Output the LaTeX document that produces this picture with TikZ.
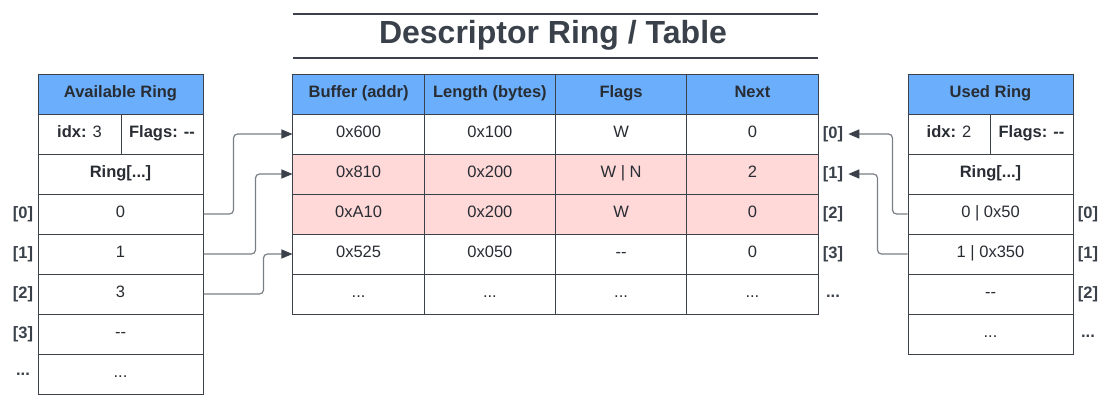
\documentclass[tikz,border=0pt]{standalone}
\usepackage{fontspec}
\setmainfont{Liberation Sans}
\usetikzlibrary{arrows.meta}
\definecolor{lineC}{HTML}{3A414A}
\definecolor{txtC}{HTML}{282C33}
\definecolor{headC}{HTML}{6AAEFC}
\definecolor{pinkC}{HTML}{FFD8D8}
\definecolor{arrC}{HTML}{7A7F86}
\newcommand{\dd}{-{}-}
\tikzset{
  cell/.style={draw=lineC, line width=1pt, minimum height=40pt, inner sep=0pt, text=txtC, text height=12pt, text depth=6pt, font=\fontsize{16.5}{19}\selectfont},
  hd/.style={cell, fill=headC, font=\fontsize{16.5}{19}\selectfont\bfseries},
  pk/.style={cell, fill=pinkC},
  lab/.style={inner sep=0pt, text=lineC, font=\fontsize{16.5}{19}\selectfont\bfseries},
  arr/.style={draw=arrC, line width=1.2pt, rounded corners=4pt, -{Triangle[length=11pt,width=9pt,color=lineC]}},
}
\begin{document}
\begin{tikzpicture}[x=1pt,y=-1pt]
\useasboundingbox (0,0) rectangle (1109,408);
% ---------- title ----------
\node[text=lineC, font=\fontsize{32}{38}\selectfont\bfseries] (title) at (553,35) {Descriptor Ring / Table};
\draw[lineC, line width=2pt] (293,14) -- (818,14);
\draw[lineC, line width=2pt] (293,58) -- (818,58);
% ---------- available ring ----------
\node[hd, minimum width=165pt] (ah) at (120.5,94) {Available Ring};
\node[cell, minimum width=83pt] (aidx) at (79.5,134) {\textbf{idx:} 3};
\node[cell, minimum width=82pt] (aflg) at (162,134) {\textbf{Flags: \dd}};
\node[cell, minimum width=165pt, font=\fontsize{16.5}{19}\selectfont\bfseries] (aring) at (120.5,174) {Ring[...]};
\node[cell, minimum width=165pt] (a0) at (120.5,214) {0};
\node[cell, minimum width=165pt] (a1) at (120.5,254) {1};
\node[cell, minimum width=165pt] (a2) at (120.5,294) {3};
\node[cell, minimum width=165pt] (a3) at (120.5,334) {\dd};
\node[cell, minimum width=165pt] (a4) at (120.5,374) {...};
\node[lab] (la0) at (23,214) {[0]};
\node[lab] (la1) at (23,254) {[1]};
\node[lab] (la2) at (23,294) {[2]};
\node[lab] (la3) at (23,334) {[3]};
\node[lab] (la4) at (23,374) {...};
% ---------- descriptor table ----------
\node[hd, minimum width=131.25pt] (dh0) at (358.6,94) {Buffer (addr)};
\node[hd, minimum width=131.25pt] (dh1) at (489.9,94) {Length (bytes)};
\node[hd, minimum width=131.25pt] (dh2) at (621.1,94) {Flags};
\node[hd, minimum width=131.25pt] (dh3) at (752.4,94) {Next};
\node[cell, minimum width=131.25pt] (d00) at (358.6,134) {0x600};
\node[cell, minimum width=131.25pt] (d01) at (489.9,134) {0x100};
\node[cell, minimum width=131.25pt] (d02) at (621.1,134) {W};
\node[cell, minimum width=131.25pt] (d03) at (752.4,134) {0};
\node[pk, minimum width=131.25pt] (d10) at (358.6,174) {0x810};
\node[pk, minimum width=131.25pt] (d11) at (489.9,174) {0x200};
\node[pk, minimum width=131.25pt] (d12) at (621.1,174) {W | N};
\node[pk, minimum width=131.25pt] (d13) at (752.4,174) {2};
\node[pk, minimum width=131.25pt] (d20) at (358.6,214) {0xA10};
\node[pk, minimum width=131.25pt] (d21) at (489.9,214) {0x200};
\node[pk, minimum width=131.25pt] (d22) at (621.1,214) {W};
\node[pk, minimum width=131.25pt] (d23) at (752.4,214) {0};
\node[cell, minimum width=131.25pt] (d30) at (358.6,254) {0x525};
\node[cell, minimum width=131.25pt] (d31) at (489.9,254) {0x050};
\node[cell, minimum width=131.25pt] (d32) at (621.1,254) {\dd};
\node[cell, minimum width=131.25pt] (d33) at (752.4,254) {0};
\node[cell, minimum width=131.25pt] (d40) at (358.6,294) {...};
\node[cell, minimum width=131.25pt] (d41) at (489.9,294) {...};
\node[cell, minimum width=131.25pt] (d42) at (621.1,294) {...};
\node[cell, minimum width=131.25pt] (d43) at (752.4,294) {...};
\node[lab] (ld0) at (833,134) {[0]};
\node[lab] (ld1) at (833,174) {[1]};
\node[lab] (ld2) at (833,214) {[2]};
\node[lab] (ld3) at (833,254) {[3]};
\node[lab] (ld4) at (833,296) {...};
% ---------- used ring ----------
\node[hd, minimum width=165pt] (uh) at (990.5,94) {Used Ring};
\node[cell, minimum width=82pt] (uidx) at (949,134) {\textbf{idx:} 2};
\node[cell, minimum width=83pt] (uflg) at (1031.5,134) {\textbf{Flags: \dd}};
\node[cell, minimum width=165pt, font=\fontsize{16.5}{19}\selectfont\bfseries] (uring) at (990.5,174) {Ring[...]};
\node[cell, minimum width=165pt] (u0) at (990.5,214) {0 | 0x50};
\node[cell, minimum width=165pt] (u1) at (990.5,254) {1 | 0x350};
\node[cell, minimum width=165pt] (u2) at (990.5,294) {\dd};
\node[cell, minimum width=165pt] (u3) at (990.5,334) {...};
\node[lab] (lu0) at (1088,214) {[0]};
\node[lab] (lu1) at (1088,254) {[1]};
\node[lab] (lu2) at (1088,294) {[2]};
\node[lab] (lu3) at (1088,336) {...};
% ---------- connectors ----------
\draw[arr] (a0.east) -- ++(30,0) |- (d00.west);
\draw[arr] (a1.east) -- ++(52,0) |- (d10.west);
\draw[arr] (a2.east) -- ++(60,0) |- (d30.west);
\draw[arr] (u0.west) -- ++(-15,0) |- ([xshift=5pt]ld0.east);
\draw[arr] (u1.west) -- ++(-30,0) |- ([xshift=5pt]ld1.east);
\end{tikzpicture}
\end{document}
